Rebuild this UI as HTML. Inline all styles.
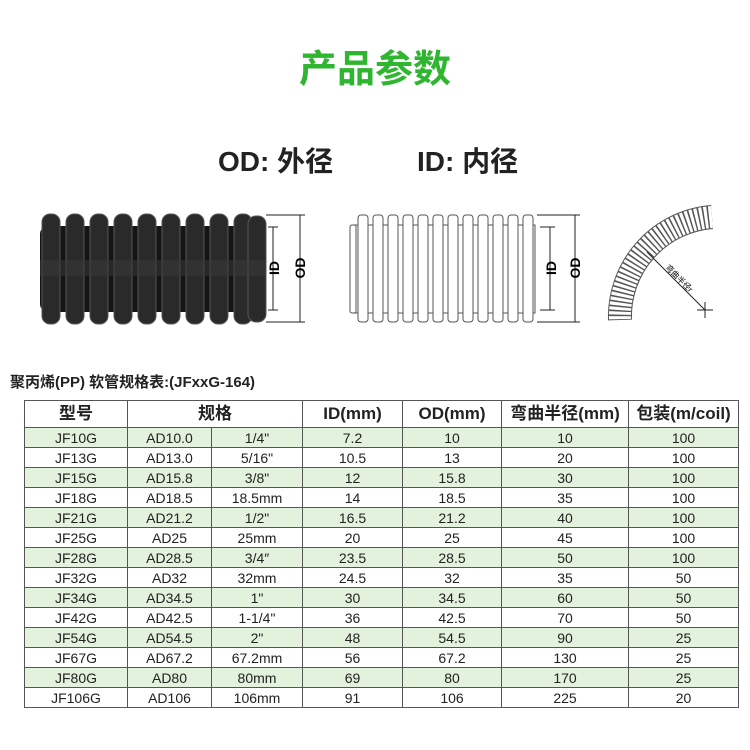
<!DOCTYPE html>
<html><head><meta charset="utf-8"><style>
body{margin:0;width:750px;height:750px;background:#fff;position:relative;overflow:hidden;font-family:"Liberation Sans","Noto Sans CJK SC",sans-serif;color:#222}
.a{position:absolute;white-space:nowrap}
table{position:absolute;left:24px;top:400px;border-collapse:collapse;font-size:14px}
td{border:1.5px solid #555;text-align:center;height:19px;padding:0;line-height:18px}
tr.h td{height:26px;font-weight:bold;font-size:17px}
tr.g td{background:#e2f2dc}
</style></head><body>
<div class="a" style="left:0;width:750px;text-align:center;top:38px;font-size:38px;font-weight:bold;color:#2fb52f">产品参数</div>
<div class="a" style="left:218px;top:140px;font-size:28px;font-weight:bold">OD: 外径</div>
<div class="a" style="left:417px;top:140px;font-size:28px;font-weight:bold">ID: 内径</div>
<svg class="a" style="left:0;top:190px" width="750" height="150">
<rect x="40" y="36" width="226" height="86" rx="8" fill="#151515"/>
<g fill="#2a2a2a" stroke="#555" stroke-width="1">
<rect x="42" y="24" width="18" height="110" rx="8"/><rect x="66" y="24" width="18" height="110" rx="8"/><rect x="90" y="24" width="18" height="110" rx="8"/><rect x="114" y="24" width="18" height="110" rx="8"/><rect x="138" y="24" width="18" height="110" rx="8"/><rect x="162" y="24" width="18" height="110" rx="8"/><rect x="186" y="24" width="18" height="110" rx="8"/><rect x="210" y="24" width="18" height="110" rx="8"/><rect x="234" y="24" width="18" height="110" rx="8"/><rect x="248" y="26" width="18" height="106" rx="8"/>
</g>
<rect x="40" y="70" width="226" height="16" fill="#3a3a3a" opacity=".5"/>
<g stroke="#222" stroke-width="1" fill="none">
<line x1="266" y1="25" x2="305" y2="25"/><line x1="266" y1="132" x2="305" y2="132"/><line x1="300" y1="25" x2="300" y2="132"/>
<line x1="268" y1="37" x2="278" y2="37"/><line x1="268" y1="120" x2="278" y2="120"/><line x1="273" y1="37" x2="273" y2="120"/>
<line x1="537" y1="25" x2="580" y2="25"/><line x1="537" y1="132" x2="580" y2="132"/><line x1="575" y1="25" x2="575" y2="132"/>
<line x1="540" y1="37" x2="555" y2="37"/><line x1="540" y1="120" x2="555" y2="120"/><line x1="550" y1="37" x2="550" y2="120"/>
</g>
<text x="-78" y="279" transform="rotate(-90)" font-size="14" font-weight="bold" text-anchor="middle">ID</text>
<text x="-78" y="305" transform="rotate(-90)" font-size="14" font-weight="bold" text-anchor="middle">OD</text>
<text x="-78" y="556" transform="rotate(-90)" font-size="14" font-weight="bold" text-anchor="middle">ID</text>
<text x="-78" y="580" transform="rotate(-90)" font-size="14" font-weight="bold" text-anchor="middle">OD</text>
<g fill="#fff" stroke="#555" stroke-width="1">
<rect x="355" y="35" width="180" height="88"/>
<rect x="350" y="35" width="6" height="88" rx="2"/>
<rect x="358" y="25" width="10" height="107" rx="3"/><rect x="373" y="25" width="10" height="107" rx="3"/><rect x="388" y="25" width="10" height="107" rx="3"/><rect x="403" y="25" width="10" height="107" rx="3"/><rect x="418" y="25" width="10" height="107" rx="3"/><rect x="433" y="25" width="10" height="107" rx="3"/><rect x="448" y="25" width="10" height="107" rx="3"/><rect x="463" y="25" width="10" height="107" rx="3"/><rect x="478" y="25" width="10" height="107" rx="3"/><rect x="493" y="25" width="10" height="107" rx="3"/><rect x="508" y="25" width="10" height="107" rx="3"/><rect x="523" y="25" width="10" height="107" rx="3"/>
</g>
<path d="M712 27 A100 100 0 0 0 620 130" stroke="#555" stroke-width="24" fill="none"/>
<path d="M712 27 A100 100 0 0 0 620 130" stroke="#fff" stroke-width="22" fill="none" stroke-dasharray="3 1.5"/>
<line x1="647" y1="62" x2="705" y2="120" stroke="#222"/>
<line x1="697" y1="120" x2="713" y2="120" stroke="#222"/><line x1="705" y1="112" x2="705" y2="128" stroke="#222"/>
<text x="665" y="78" font-size="8" transform="rotate(45 665 78)">弯曲半径r</text>
</svg>
<div class="a" style="left:10px;top:371px;font-size:15px;font-weight:bold">聚丙烯(PP) 软管规格表:(JFxxG-164)</div>
<table>
<colgroup><col style="width:103px"><col style="width:84px"><col style="width:91px"><col style="width:100px"><col style="width:99px"><col style="width:127px"><col style="width:110px"></colgroup>
<tr class="h"><td>型号</td><td colspan="2">规格</td><td>ID(mm)</td><td>OD(mm)</td><td>弯曲半径(mm)</td><td>包装(m/coil)</td></tr>
<tr class="g"><td>JF10G</td><td>AD10.0</td><td>1/4"</td><td>7.2</td><td>10</td><td>10</td><td>100</td></tr>
<tr><td>JF13G</td><td>AD13.0</td><td>5/16"</td><td>10.5</td><td>13</td><td>20</td><td>100</td></tr>
<tr class="g"><td>JF15G</td><td>AD15.8</td><td>3/8"</td><td>12</td><td>15.8</td><td>30</td><td>100</td></tr>
<tr><td>JF18G</td><td>AD18.5</td><td>18.5mm</td><td>14</td><td>18.5</td><td>35</td><td>100</td></tr>
<tr class="g"><td>JF21G</td><td>AD21.2</td><td>1/2"</td><td>16.5</td><td>21.2</td><td>40</td><td>100</td></tr>
<tr><td>JF25G</td><td>AD25</td><td>25mm</td><td>20</td><td>25</td><td>45</td><td>100</td></tr>
<tr class="g"><td>JF28G</td><td>AD28.5</td><td>3/4″</td><td>23.5</td><td>28.5</td><td>50</td><td>100</td></tr>
<tr><td>JF32G</td><td>AD32</td><td>32mm</td><td>24.5</td><td>32</td><td>35</td><td>50</td></tr>
<tr class="g"><td>JF34G</td><td>AD34.5</td><td>1"</td><td>30</td><td>34.5</td><td>60</td><td>50</td></tr>
<tr><td>JF42G</td><td>AD42.5</td><td>1-1/4"</td><td>36</td><td>42.5</td><td>70</td><td>50</td></tr>
<tr class="g"><td>JF54G</td><td>AD54.5</td><td>2"</td><td>48</td><td>54.5</td><td>90</td><td>25</td></tr>
<tr><td>JF67G</td><td>AD67.2</td><td>67.2mm</td><td>56</td><td>67.2</td><td>130</td><td>25</td></tr>
<tr class="g"><td>JF80G</td><td>AD80</td><td>80mm</td><td>69</td><td>80</td><td>170</td><td>25</td></tr>
<tr><td>JF106G</td><td>AD106</td><td>106mm</td><td>91</td><td>106</td><td>225</td><td>20</td></tr>
</table>
</body></html>
